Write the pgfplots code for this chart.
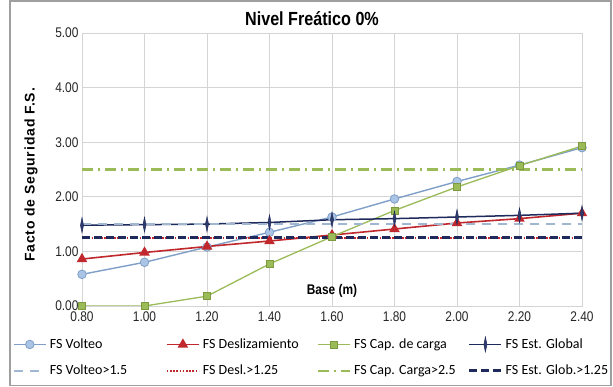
\documentclass[border=0pt]{standalone}
\usepackage{fontspec}
\setmainfont{Carlito}
\newfontfamily\arialn[FakeStretch=0.85]{Liberation Sans}
\newfontfamily\arialsp[LetterSpace=6]{Liberation Sans}
\usepackage{pgfplots}
\pgfplotsset{compat=1.18}
\definecolor{cvol}{HTML}{7F9FC8}
\definecolor{cvolf}{HTML}{A9C4E4}
\definecolor{cdes}{HTML}{C0282D}
\definecolor{ccap}{HTML}{9BBB59}
\definecolor{ccapd}{HTML}{7E9A3F}
\definecolor{cest}{HTML}{1F2A5C}
\definecolor{cgrid}{HTML}{D4D4D4}
\begin{document}
\begin{tikzpicture}[x=1pt,y=1pt]
\useasboundingbox (0,0) rectangle (613,387);
\fill[white] (0,0) rectangle (613,387);
\draw[gray!75, line width=1.3] (10,1.5) rectangle (611,386);
\node at (312,368) {\arialn\bfseries\fontsize{19}{21}\selectfont Nivel Freático 0\%};
\node[rotate=90] at (31,212) {\arialsp\bfseries\fontsize{14}{16}\selectfont Facto de Seguridad F.S.};
\begin{axis}[
  at={(82pt,81pt)}, anchor=south west,
  scale only axis, width=500pt, height=273pt,
  xmin=0.8, xmax=2.4, ymin=0, ymax=5,
  xtick={0.8,1.0,1.2,1.4,1.6,1.8,2.0,2.2,2.4},
  ytick={0,1,2,3,4,5},
  grid=major,
  grid style={cgrid, line width=0.8pt},
  axis line style={cgrid, line width=0.8pt},
  tick style={draw=none},
  /pgf/number format/assume math mode=true,
  xticklabel style={/pgf/number format/.cd, fixed, fixed zerofill, precision=2},
  yticklabel style={/pgf/number format/.cd, fixed, fixed zerofill, precision=2},
  tick label style={font=\arialn\fontsize{14}{16}\selectfont, text=black!85},
  xticklabel shift=2pt,
  yticklabel shift=0pt,
  legend columns=4,
  legend style={at={(-0.145,-0.105)}, anchor=north west, draw=none, fill=none,
    font=\fontsize{14}{16}\selectfont, row sep=11pt,
    /tikz/every odd column/.append style={column sep=1pt}},
  legend cell align=left,
  legend image code/.code={\draw[mark repeat=2,mark phase=2,#1] plot coordinates {(0pt,0pt) (16pt,0pt) (32pt,0pt)};},
]
\addplot[cvol, line width=1.4pt, mark=*, mark size=4.3pt, mark options={fill=cvolf, draw=cvol, line width=0.8pt}]
 coordinates {(0.8,0.58) (1.0,0.80) (1.2,1.08) (1.4,1.35) (1.6,1.63) (1.8,1.96) (2.0,2.28) (2.2,2.58) (2.4,2.90)};
\addlegendentry{\makebox[114pt][l]{FS Volteo}}
\addplot[cdes, line width=1.6pt, mark=triangle*, mark size=4.5pt, mark options={fill=cdes, draw=cdes}]
 coordinates {(0.8,0.86) (1.0,0.98) (1.2,1.09) (1.4,1.19) (1.6,1.30) (1.8,1.41) (2.0,1.52) (2.2,1.60) (2.4,1.70)};
\addlegendentry{\makebox[112pt][l]{FS Deslizamiento}}
\addplot[ccap, line width=1.3pt, mark=square*, mark size=3.6pt, mark options={fill=ccap, draw=ccapd, line width=0.6pt}]
 coordinates {(0.8,0) (1.0,0) (1.2,0.18) (1.4,0.77) (1.6,1.27) (1.8,1.75) (2.0,2.18) (2.2,2.57) (2.4,2.93)};
\addlegendentry{\makebox[112pt][l]{FS Cap. de carga}}
\addplot[cest, line width=1.5pt, mark=diamond*, mark size=3.4pt, mark options={fill=cest!85!cvol, draw=cest, xscale=0.6, yscale=2.2, line width=0.5pt}]
 coordinates {(0.8,1.48) (1.0,1.49) (1.2,1.50) (1.4,1.53) (1.6,1.58) (1.8,1.60) (2.0,1.63) (2.2,1.66) (2.4,1.70)};
\addlegendentry{FS Est. Global}
\addplot[cvolf!80!gray, line width=2.2pt, dash pattern=on 9pt off 7pt]
 coordinates {(0.8,1.5) (2.4,1.5)};
\addlegendentry{FS Volteo>1.5}
\addplot[cdes, line width=2pt, dash pattern=on 1.6pt off 1.6pt]
 coordinates {(0.8,1.25) (2.4,1.25)};
\addlegendentry{FS Desl.>1.25}
\addplot[ccap, line width=2.2pt, dash pattern=on 11pt off 5pt on 2pt off 5pt]
 coordinates {(0.8,2.5) (2.4,2.5)};
\addlegendentry{FS Cap. Carga>2.5}
\addplot[cest, line width=2.6pt, dash pattern=on 8pt off 4pt]
 coordinates {(0.8,1.25) (2.4,1.25)};
\addlegendentry{FS Est. Glob.>1.25}
\node at (axis cs:1.6,0.27) {\arialn\bfseries\fontsize{14}{16}\selectfont Base (m)};
\end{axis}
\end{tikzpicture}
\end{document}
